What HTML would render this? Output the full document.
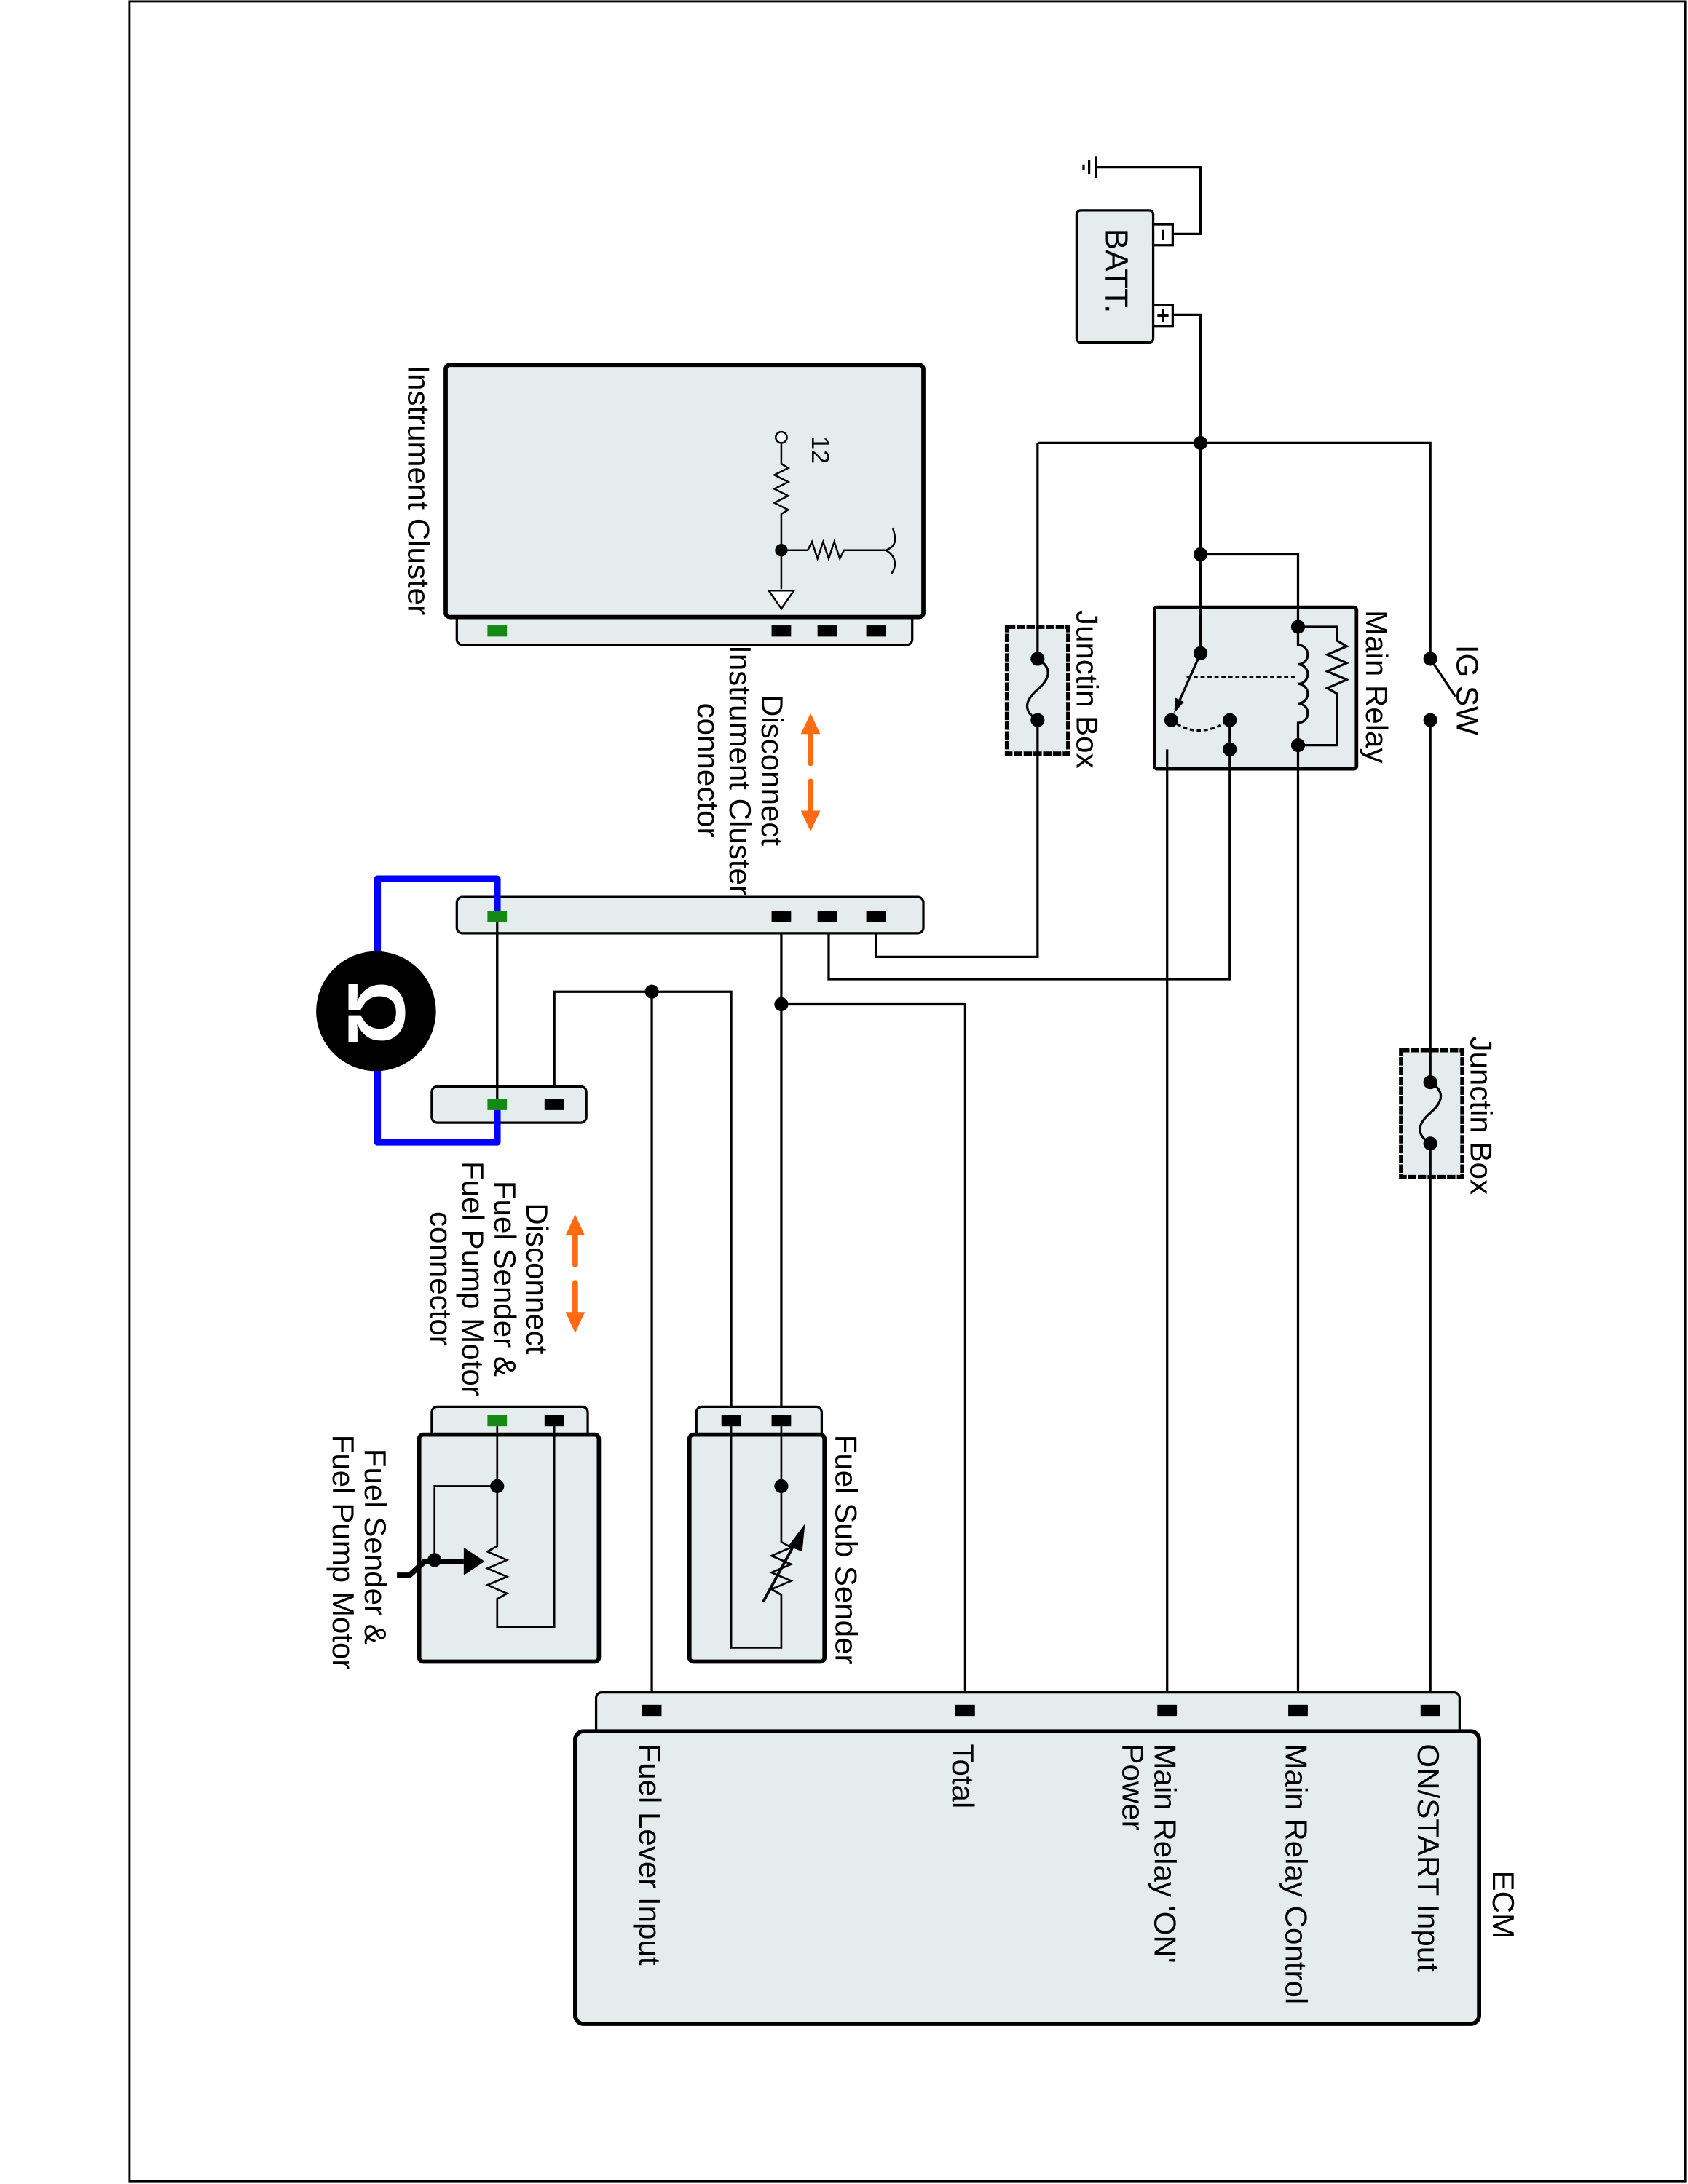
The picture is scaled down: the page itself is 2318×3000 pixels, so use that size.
<!DOCTYPE html>
<html><head><meta charset="utf-8"><style>
html,body{margin:0;padding:0;background:#fff}
svg{display:block}
text{font-family:"Liberation Sans",Arial,sans-serif;fill:#000}
</style></head><body>
<svg width="2318" height="3000" viewBox="0 0 1212 1568" preserveAspectRatio="none" xmlns="http://www.w3.org/2000/svg">
<rect x="0" y="0" width="1212" height="1568" fill="#fff"/>
<rect x="93" y="1" width="1117" height="1565" fill="none" stroke="#000" stroke-width="1.5"/>

<g fill="none" stroke="#000" stroke-width="1.7">
<path d="M787 120 H862 V168 H842"/>
<path d="M842 226 H862 V469"/>
<path d="M745 318 H1027 V473"/>
<path d="M745 318 V687 H629 V658"/>
<path d="M1027 517 V1228"/>
<path d="M862 398 H932 V450"/>
<path d="M883 517 V703 H595 V658"/>
<path d="M883 538 H838 V1228"/>
<path d="M932 535 V1228"/>
<path d="M357 658 V793"/>
<path d="M398 793 V712 H525 V1020"/>
<path d="M468 712 V1228"/>
<path d="M561 658 V1020"/>
<path d="M561 721 H693 V1228"/>
</g>
<g stroke="#000" stroke-width="1.7">
<line x1="787" y1="112" x2="787" y2="128"/>
<line x1="782" y1="115" x2="782" y2="125"/>
<line x1="778" y1="118" x2="778" y2="122"/>
</g>

<rect x="773" y="151" width="55" height="95" rx="3" fill="#e4ecee" stroke="#000" stroke-width="1.7"/>
<rect x="828" y="161" width="14" height="15" fill="#fff" stroke="#000" stroke-width="1.7"/>
<rect x="828" y="219" width="14" height="15" fill="#fff" stroke="#000" stroke-width="1.7"/>
<line x1="835" y1="165" x2="835" y2="172" stroke="#000" stroke-width="2"/>
<line x1="835" y1="222" x2="835" y2="231" stroke="#000" stroke-width="1.8"/>
<line x1="831" y1="226.5" x2="839" y2="226.5" stroke="#000" stroke-width="1.8"/>
<text transform="translate(794,164) rotate(90)" font-size="23">BATT.</text>

<g fill="#000">
<circle cx="862" cy="318" r="5"/>
<circle cx="862" cy="398" r="5"/>
</g>

<rect x="829" y="436" width="145" height="116" rx="2" fill="#e4ecee" stroke="#000" stroke-width="2.5"/>
<g fill="none" stroke="#000" stroke-width="1.7">
<path d="M862 436 V469"/>
<path d="M932 436 V450"/>
<path d="M932 450 H960 V460 l7 4 -14 6 14 6 -14 6 14 6 -14 6 7 4 V535 H932"/>
<path d="M932 450 V463 a7 7 0 0 1 0 14 a7 7 0 0 1 0 14 a7 7 0 0 1 0 14 a7 7 0 0 1 0 14 V535"/>
<path d="M852 486 H932" stroke-dasharray="3,2"/>
<path d="M862 469 L846 505"/>
<path d="M841 517 Q860 532 883 517" stroke-dasharray="3,2"/>
<path d="M883 517 V538"/>
<path d="M883 538 V552"/>
<path d="M838 538 V552"/>
<path d="M932 535 V552"/>
</g>
<polygon points="843,512 844,501 850,504" fill="#000"/>
<g fill="#000">
<circle cx="862" cy="469" r="5"/><circle cx="841" cy="517" r="5"/>
<circle cx="883" cy="517" r="5"/><circle cx="883" cy="538" r="5"/>
<circle cx="932" cy="450" r="5"/><circle cx="932" cy="535" r="5"/>
</g>
<text transform="translate(981,438) rotate(90)" font-size="22">Main Relay</text>

<line x1="1027" y1="473" x2="1045" y2="500" stroke="#000" stroke-width="1.7"/>
<circle cx="1027" cy="473" r="5"/><circle cx="1027" cy="517" r="5"/>
<text transform="translate(1046,463) rotate(90)" font-size="22">IG SW</text>

<g>
<rect x="723" y="450" width="44" height="91" fill="#e4ecee" stroke="#000" stroke-width="3" stroke-dasharray="6,1"/>
<path d="M745 450 V473 Q760 482 745 495 Q730 508 745 517 V541" fill="none" stroke="#000" stroke-width="1.7"/>
<circle cx="745" cy="473" r="5"/><circle cx="745" cy="517" r="5"/>
<text transform="translate(773,438) rotate(90)" font-size="22">Junctin Box</text>
</g>
<g>
<rect x="1006" y="754" width="44" height="91" fill="#e4ecee" stroke="#000" stroke-width="3" stroke-dasharray="6,1"/>
<path d="M1027 754 V777 Q1042 786 1027 799 Q1012 812 1027 821 V845" fill="none" stroke="#000" stroke-width="1.7"/>
<circle cx="1027" cy="777" r="5"/><circle cx="1027" cy="821" r="5"/>
<text transform="translate(1056,744) rotate(90)" font-size="22">Junctin Box</text>
</g>

<rect x="328" y="440" width="327" height="23" rx="4" fill="#e4ecee" stroke="#000" stroke-width="1.7"/>
<rect x="320" y="262" width="343" height="181" rx="3" fill="#e4ecee" stroke="#000" stroke-width="3"/>
<rect x="350" y="449" width="14" height="8" fill="#148a14"/>
<rect x="554" y="449" width="14" height="8" fill="#000"/>
<rect x="587" y="449" width="14" height="8" fill="#000"/>
<rect x="622" y="449" width="14" height="8" fill="#000"/>
<g fill="none" stroke="#000" stroke-width="1.3">
<circle cx="561" cy="314" r="4" fill="#fff"/>
<path d="M561 318 V333 l5 3 -10 5 10 5 -10 5 10 5 -10 5 10 5 -5 3 V423"/>
<path d="M561 395 H580 l3 -6 4 12 4 -12 4 12 4 -12 4 12 3 -6 H636"/>
<path d="M636 395 C645 392 643 385 641 379 M636 395 C645 400 643 408 640 412"/>
<polygon points="552,424 570,424 561,437" fill="#fff"/>
</g>
<circle cx="561" cy="395" r="4.5"/>
<text transform="translate(583,313) rotate(90)" font-size="18">12</text>
<text transform="translate(293,262) rotate(90)" font-size="22">Instrument Cluster</text>

<g fill="#ff6a13" stroke="#ff6a13">
<line x1="582" y1="520" x2="582" y2="548" stroke-width="4" stroke-linecap="round"/>
<polygon points="575,527 589,527 582,512" stroke="none"/>
<line x1="582" y1="561" x2="582" y2="589" stroke-width="4" stroke-linecap="round"/>
<polygon points="575,582 589,582 582,597" stroke="none"/>
</g>
<g font-size="22" text-anchor="middle">
<text transform="translate(547,553) rotate(90)">Disconnect</text>
<text transform="translate(524,553) rotate(90)">Instrument Cluster</text>
<text transform="translate(501,553) rotate(90)">connector</text>
</g>

<rect x="328" y="644" width="335" height="26" rx="4" fill="#e4ecee" stroke="#000" stroke-width="1.7"/>
<rect x="554" y="654" width="14" height="8" fill="#000"/>
<rect x="587" y="654" width="14" height="8" fill="#000"/>
<rect x="622" y="654" width="14" height="8" fill="#000"/>

<rect x="310" y="780" width="111" height="26" rx="4" fill="#e4ecee" stroke="#000" stroke-width="1.7"/>
<rect x="391" y="789" width="14" height="8" fill="#000"/>

<path d="M357 658 V631 H271 V820 H357 V793" fill="none" stroke="#0000ff" stroke-width="5" stroke-linejoin="round"/>
<line x1="357" y1="658" x2="357" y2="793" stroke="#000" stroke-width="1.7"/>
<rect x="350" y="654" width="14" height="8" fill="#148a14"/>
<rect x="350" y="789" width="14" height="8" fill="#148a14"/>
<circle cx="270" cy="726" r="43" fill="#000"/>
<text transform="translate(270,727) rotate(90)" font-size="58" font-weight="bold" text-anchor="middle" dominant-baseline="central" style="fill:#fff">Ω</text>

<circle cx="468" cy="712" r="5"/><circle cx="561" cy="721" r="5"/>

<g fill="#ff6a13" stroke="#ff6a13">
<line x1="413" y1="880" x2="413" y2="908" stroke-width="4" stroke-linecap="round"/>
<polygon points="406,887 420,887 413,872" stroke="none"/>
<line x1="413" y1="921" x2="413" y2="949" stroke-width="4" stroke-linecap="round"/>
<polygon points="406,942 420,942 413,957" stroke="none"/>
</g>
<g font-size="22" text-anchor="middle">
<text transform="translate(378,918) rotate(90)">Disconnect</text>
<text transform="translate(355,918) rotate(90)">Fuel Sender &amp;</text>
<text transform="translate(332,918) rotate(90)">Fuel Pump Motor</text>
<text transform="translate(309,918) rotate(90)">connector</text>
</g>

<rect x="500" y="1010" width="90" height="24" rx="4" fill="#e4ecee" stroke="#000" stroke-width="1.7"/>
<rect x="495" y="1030" width="97" height="163" rx="3" fill="#e4ecee" stroke="#000" stroke-width="3"/>
<rect x="518" y="1016" width="14" height="8" fill="#000"/>
<rect x="554" y="1016" width="14" height="8" fill="#000"/>
<g fill="none" stroke="#000" stroke-width="1.4">
<path d="M525 1024 V1183 H561 V1145 l-7 -4 14 -6 -14 -6 14 -6 -14 -6 14 -6 -7 -4 V1024"/>
<line x1="548" y1="1150" x2="574" y2="1102" stroke-width="2"/>
</g>
<polygon points="578,1094 566,1110 576,1114" fill="#000"/>
<circle cx="561" cy="1067" r="5"/>
<text transform="translate(600,1030) rotate(90)" font-size="22">Fuel Sub Sender</text>

<rect x="310" y="1010" width="112" height="24" rx="4" fill="#e4ecee" stroke="#000" stroke-width="1.7"/>
<rect x="301" y="1030" width="129" height="163" rx="3" fill="#e4ecee" stroke="#000" stroke-width="3"/>
<rect x="350" y="1016" width="14" height="8" fill="#148a14"/>
<rect x="391" y="1016" width="14" height="8" fill="#000"/>
<g fill="none" stroke="#000" stroke-width="1.4">
<path d="M398 1024 V1168 H357 V1148 l7 -4 -14 -6 14 -6 -14 -6 14 -6 -14 -6 7 -4 V1024"/>
<path d="M357 1067 H312 V1120"/>
<path d="M285 1131 H294 L305 1121 H333" stroke-width="4"/>
</g>
<polygon points="333,1111 333,1131 348,1121" fill="#000"/>
<circle cx="357" cy="1067" r="5"/><circle cx="312" cy="1120" r="5"/>
<text transform="translate(262,1040) rotate(90)" font-size="22">Fuel Sender &amp;</text>
<text transform="translate(239,1030) rotate(90)" font-size="22">Fuel Pump Motor</text>

<rect x="428" y="1215" width="620" height="32" rx="4" fill="#e4ecee" stroke="#000" stroke-width="1.7"/>
<rect x="413" y="1243" width="649" height="210" rx="6" fill="#e4ecee" stroke="#000" stroke-width="3"/>
<g fill="#000">
<rect x="461" y="1224" width="14" height="8"/>
<rect x="686" y="1224" width="14" height="8"/>
<rect x="831" y="1224" width="14" height="8"/>
<rect x="925" y="1224" width="14" height="8"/>
<rect x="1020" y="1224" width="14" height="8"/>
</g>
<g font-size="22">
<text transform="translate(459,1252) rotate(90)">Fuel Lever Input</text>
<text transform="translate(684,1252) rotate(90)">Total</text>
<text transform="translate(829,1252) rotate(90)">Main Relay 'ON'</text>
<text transform="translate(806,1252) rotate(90)">Power</text>
<text transform="translate(923,1252) rotate(90)">Main Relay Control</text>
<text transform="translate(1018,1252) rotate(90)">ON/START Input</text>
<text transform="translate(1072,1343) rotate(90)">ECM</text>
</g>
</svg>
</body></html>
